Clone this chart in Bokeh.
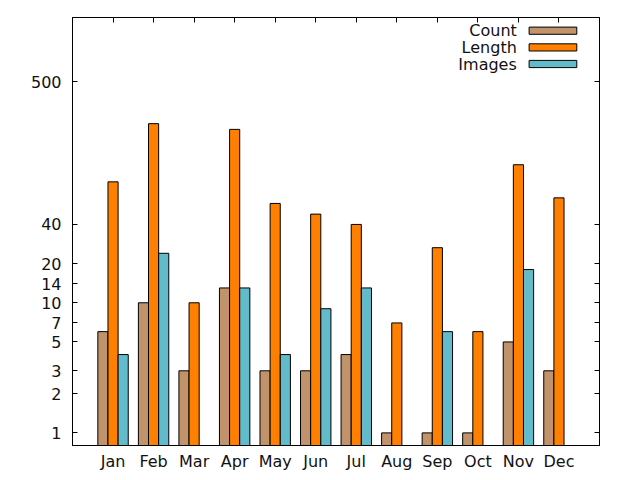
import math
from bokeh.plotting import figure
from bokeh.models import Range1d, FixedTicker, LogAxis, LinearAxis
from bokeh.embed import file_html
from bokeh.resources import INLINE
from bokeh.core.properties import value

# ---- data ----
months = ["Jan", "Feb", "Mar", "Apr", "May", "Jun", "Jul", "Aug", "Sep", "Oct", "Nov", "Dec"]
count = [6, 10, 3, 13, 3, 3, 4, 1, 1, 1, 5, 3]
length = [85, 238, 10, 215, 58, 48, 40, 7, 26.5, 6, 115, 64]
images = [4, 24, 0, 13, 4, 9, 13, 0, 6, 0, 18, 0]
y_ticks = [1, 2, 3, 5, 7, 10, 14, 20, 40, 500]
series_names = ["Count", "Length", "Images"]
series_values = [count, length, images]
colors = ["#c0936b", "#ff7f00", "#62bbca"]

# ---- layout ----
X0, X1 = -1, 12
Y0, Y1 = 0.8, 1557
FW, FH = 527, 428
FONT = "DejaVu Sans"
FS = "16px"
BL, BT = 72, 17

p = figure(frame_width=FW, frame_height=FH,
           x_range=Range1d(X0, X1), y_range=Range1d(Y0, Y1),
           y_axis_type="log", output_backend="svg", toolbar_location=None,
           min_border_left=BL, min_border_right=33, min_border_top=BT,
           min_border_bottom=27)
p.xgrid.visible = False
p.ygrid.visible = False
p.outline_line_color = "black"
p.outline_line_width = 1
p.background_fill_color = "white"
p.border_fill_color = "white"

xt = FixedTicker(ticks=list(range(len(months))), minor_ticks=[])
yt = FixedTicker(ticks=y_ticks, minor_ticks=[])


def style_axis(ax, labels=True, tick_in=5):
    ax.axis_line_color = "black"
    ax.major_tick_in = tick_in
    ax.major_tick_out = 0
    ax.minor_tick_in = 0
    ax.minor_tick_out = 0
    ax.major_tick_line_color = "black"
    ax.major_label_text_font = FONT
    ax.major_label_text_font_size = FS if labels else "0px"
    ax.major_label_text_color = "#111111" if labels else None


xa = p.xaxis[0]
xa.ticker = xt
xa.major_label_overrides = {i: m for i, m in enumerate(months)}
style_axis(xa, tick_in=0)
xa.major_label_standoff = 6

ya = p.yaxis[0]
ya.ticker = yt
ya.major_label_overrides = {t: str(t) for t in y_ticks}
style_axis(ya)
ya.major_label_standoff = 11

top_ax = LinearAxis(ticker=xt)
style_axis(top_ax, labels=False)
top_ax.major_label_standoff = 0
p.add_layout(top_ax, "above")

right_ax = LogAxis(ticker=yt)
style_axis(right_ax, labels=False)
right_ax.major_label_standoff = 0
p.add_layout(right_ax, "right")

# ---- bars ----
bw = 0.25
for k, (vals, col) in enumerate(zip(series_values, colors)):
    xs = [i + (k - 1) * bw for i, v in enumerate(vals) if v > 0]
    tops = [v for v in vals if v > 0]
    p.vbar(x=xs, top=tops, bottom=Y0, width=bw, fill_color=col,
           line_color="black", line_width=1)

# ---- legend (label left, swatch right, like gnuplot) ----
PL, PT = 71.7, 17.3


def px2x(px):
    return X0 + (px - PL) / FW * (X1 - X0)


def px2y(py):
    ly = math.log10(Y1) - (py - PT) / FH * (math.log10(Y1) - math.log10(Y0))
    return 10 ** ly


row_y = [30.5, 47.2, 63.8]
for name, col, cy in zip(series_names, colors, row_y):
    p.quad(left=[px2x(528.3)], right=[px2x(576)],
           top=[px2y(cy - 3.6)], bottom=[px2y(cy + 3.6)],
           fill_color=col, line_color="black", line_width=1)
    p.text(x=[px2x(516)], y=[px2y(cy)], text=[name],
           text_align="right", text_baseline="middle",
           text_font=value(FONT), text_font_size=FS, text_color="#111111")

open("out.html", "w").write(file_html(p, INLINE))
